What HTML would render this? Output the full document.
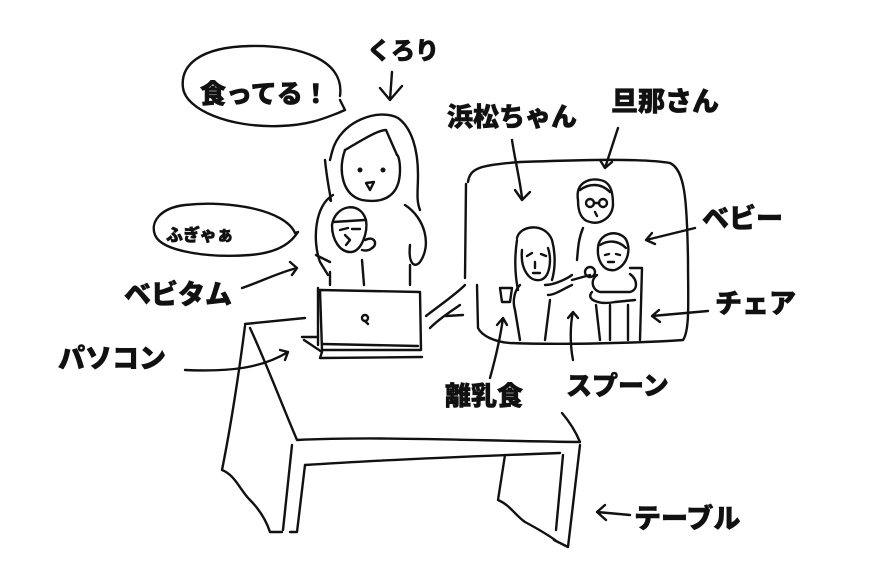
<!DOCTYPE html>
<html><head><meta charset="utf-8"><style>
html,body{margin:0;padding:0;background:#fff;}
svg{display:block}
text{font-family:"Liberation Sans","Noto Sans CJK JP",sans-serif;font-weight:900;fill:#111;stroke:#111;stroke-width:0.6}
</style></head><body>
<svg width="890" height="582" viewBox="0 0 890 582" xmlns="http://www.w3.org/2000/svg">
<g fill="none" stroke="#111" stroke-width="2.4" stroke-linecap="round" stroke-linejoin="round">
<path d="M340,96 C345,60 300,45 250,46 C200,47 180,65 183,88 C186,110 230,128 280,126 C310,125 325,118 338,113 L345,110 L340,100"/>
<path d="M392,72 L390,100 M380,88 L390,100 L402,86"/>
<path d="M295,233 C285,210 230,200 185,205 C160,208 150,222 155,235 C162,252 210,258 250,255 C275,253 288,245 295,236 L298,232 Z"/>
<path d="M332,152 C340,120 380,108 398,118 C412,128 418,150 418,175 C418,190 416,200 420,210"/>
<path d="M332,152 L330,160 M325,160 C328,190 333,205 330,200"/>
<path d="M345,150 C362,140 378,130 386,130 L397,155"/>
<path d="M345,150 C338,170 342,195 362,200 C385,204 400,195 400,170 C400,160 398,155 397,155"/>
<circle cx="360" cy="170" r="1.3" fill="#111"/><circle cx="383" cy="170" r="1.3" fill="#111"/>
<path d="M366,183 L374,182 L370,190 Z"/>
<path d="M333,195 C315,205 312,240 320,262 L328,275"/>
<path d="M405,205 C425,218 432,245 420,262 C415,268 408,265 410,245"/>
<path d="M330,272 L330,285 M362,260 L364,285 M410,265 L410,285"/>
<path d="M332,225 C335,205 360,200 366,220 C368,232 362,250 352,252 C340,253 332,240 332,225 Z"/>
<path d="M333,222 L365,220"/>
<path d="M340,230 L348,228 M352,229 L360,229 M345,235 L350,240 L346,245"/>
<path d="M365,240 C375,235 378,245 372,248 C368,252 362,250 362,250"/>
<path d="M316,255 L330,262"/>
<path d="M242,288 C260,282 280,272 297,268 M290,262 L297,268 L292,275"/>
<path d="M320,290 L420,292 L421,350 L322,350 Z"/>
<path d="M318,288 L318,345"/>
<path d="M322,344 L418,346"/>
<path d="M304,340 L322,352 L320,358 L422,357 M302,337 L318,337"/>
<circle cx="365" cy="318" r="3"/>
<path d="M365,321 L368,324"/>
<path d="M426,316 C440,305 455,295 465,285 M430,328 C440,318 450,312 460,305 M446,316 L463,315"/>
<path d="M185,370 C230,372 262,368 288,352 M280,350 L288,352 L285,360"/>
<path d="M245,324 C265,322 285,320 305,318"/>
<path d="M250,328 C265,360 280,400 297,440 C380,436 480,441 580,442 C575,430 568,420 562,413"/>
<path d="M245,326 C238,380 230,430 222,470 C235,475 240,490 250,500 C260,510 266,520 270,532 L282,532"/>
<path d="M292,445 L283,530"/>
<path d="M305,465 L297,532 L290,532"/>
<path d="M305,465 C350,462 420,458 560,453"/>
<path d="M580,445 L568,547 L554,540"/>
<path d="M563,455 L556,530"/>
<path d="M505,455 L498,500 C510,505 515,515 525,522 C540,530 548,535 555,540"/>
<path d="M630,515 L597,512 M605,505 L597,512 L606,520"/>
<path d="M468,182 C470,168 480,165 520,162 C580,160 640,158 670,163 C685,170 687,200 688,260 C688,300 690,330 683,340 C640,343 560,345 510,343 C495,342 482,336 478,328 L477,285 M466,184 L465,278"/>
<path d="M512,140 C515,160 520,180 522,198 M515,190 L522,200 L530,192"/>
<path d="M618,128 L605,168 M600,160 L605,168 L612,162"/>
<path d="M578,200 C575,182 590,178 600,180 C612,182 613,195 613,205 C612,218 600,225 590,222 C580,220 578,210 578,200 Z"/>
<path d="M580,190 C588,184 600,182 610,192"/>
<circle cx="590" cy="203" r="4"/><circle cx="603" cy="203" r="4"/>
<path d="M594,203 L599,203"/>
<path d="M595,212 L597,216"/>
<path d="M583,228 C578,240 578,250 577,260"/>
<path d="M517,238 C520,225 545,222 552,240 C556,255 555,270 552,280"/>
<path d="M517,240 C514,260 515,275 518,290"/>
<path d="M522,250 C520,270 530,282 540,280 C550,278 552,260 548,248"/>
<path d="M527,256 L532,253 M541,254 L546,256 M535,262 L535,268 M533,273 L540,273"/>
<path d="M520,285 C515,290 512,300 515,310 L520,340"/>
<path d="M545,285 C555,285 568,278 572,275 M548,295 C555,295 565,288 572,285"/>
<path d="M550,300 L545,340"/>
<path d="M500,288 L512,288 L510,302 L502,302 Z"/>
<path d="M572,280 L590,275"/>
<circle cx="590" cy="272" r="5"/>
<path d="M598,248 C598,235 615,228 625,238 C632,248 628,265 615,270 C603,272 597,260 598,248 Z"/>
<path d="M600,245 C608,240 618,240 626,248"/>
<path d="M605,255 L609,254 M616,254 L620,255 M608,262 L614,262"/>
<path d="M597,275 C590,280 592,290 600,292 L630,292 C638,290 638,280 630,274"/>
<path d="M592,292 C585,300 600,305 615,302 L635,300"/>
<path d="M630,268 L642,268 L640,340 M596,305 L600,340 M610,305 L610,340 M628,305 L628,340"/>
<path d="M695,228 L646,240 M652,233 L646,240 L655,244"/>
<path d="M708,311 L652,316 M659,310 L652,316 L660,322"/>
<path d="M490,378 C495,360 500,340 503,318 M497,325 L503,318 L507,325"/>
<path d="M573,360 C570,345 570,325 573,312 M568,318 L573,312 L578,318"/>
</g>
<text x="367" y="59" font-size="24">くろり</text>
<text x="200" y="103" font-size="26">食ってる！</text>
<text x="166" y="241" font-size="17">ふぎゃぁ</text>
<text x="447" y="126" font-size="26">浜松ちゃん</text>
<text x="611" y="111" font-size="27">旦那さん</text>
<text x="702" y="228" font-size="27">ベビー</text>
<text x="124" y="304" font-size="27">ベビタム</text>
<text x="715" y="313" font-size="27">チェア</text>
<text x="58" y="368" font-size="27">パソコン</text>
<text x="445" y="405" font-size="26">離乳食</text>
<text x="566" y="395" font-size="26">スプーン</text>
<text x="634" y="528" font-size="27">テーブル</text>
</svg>
</body></html>
